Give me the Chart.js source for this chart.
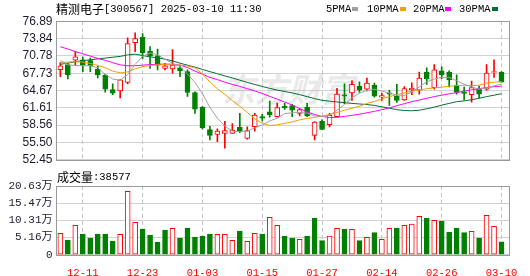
<!doctype html>
<html>
<head>
<meta charset="utf-8">
<title>精测电子 K线</title>
<script src="https://cdn.jsdelivr.net/npm/chart.js@4"></script>
<style>
  html, body { margin: 0; padding: 0; background: #fff; }
  #wrap { position: relative; width: 530px; height: 276px; overflow: hidden; }
  #price, #vol { position: absolute; left: 0; }
  #price { top: 0; }
  #vol { top: 170px; }
</style>
</head>
<body>
<div id="wrap">
  <canvas id="price" width="530" height="170"></canvas>
  <canvas id="vol" width="530" height="106"></canvas>
</div>
<script>
// trading days shown on the chart
const dates = [
  '12-06','12-09','12-10','12-11','12-12','12-13','12-16','12-17','12-18','12-19',
  '12-20','12-23','12-24','12-25','12-26','12-27','12-30','12-31','01-02','01-03',
  '01-06','01-07','01-08','01-09','01-10','01-13','01-14','01-15','01-16','01-17',
  '01-20','01-21','01-22','01-23','01-24','01-27','02-05','02-06','02-07','02-10',
  '02-11','02-12','02-13','02-14','02-17','02-18','02-19','02-20','02-21','02-24',
  '02-25','02-26','02-27','02-28','03-03','03-04','03-05','03-06','03-07','03-10'
];
const dateTickIdx = [3, 11, 19, 27, 35, 43, 51, 59];

const open = [
  68.36, 69.27, 70.01, 70.07, 69.95, 68.48, 67.40, 64.84, 64.61, 66.09,
  73.13, 74.04, 71.60, 70.81, 68.59, 68.48, 68.70, 68.02, 64.33, 61.77,
  57.80, 56.95, 57.12, 57.12, 58.20, 56.21, 58.31, 60.07, 60.92, 60.07,
  61.89, 62.00, 60.64, 61.77, 56.77, 59.22, 58.65, 60.07, 63.93, 64.27,
  65.47, 64.90, 65.63, 63.48, 64.27, 63.70, 63.02, 64.84, 64.73, 67.91,
  65.18, 68.14, 67.91, 65.63, 64.38, 63.93, 64.90, 64.90, 67.85, 67.91
];
const high = [
  69.60, 69.44, 71.60, 70.58, 70.41, 68.99, 67.57, 65.86, 66.60, 73.99,
  74.84, 74.72, 72.45, 72.00, 69.44, 71.88, 69.16, 68.31, 64.45, 61.85,
  58.37, 57.91, 59.22, 58.82, 60.64, 58.25, 60.64, 60.47, 62.80, 62.46,
  62.46, 62.23, 61.49, 62.46, 59.20, 59.50, 60.64, 65.07, 65.86, 66.43,
  66.20, 66.89, 65.98, 64.16, 64.73, 65.75, 65.35, 66.03, 67.91, 68.70,
  69.27, 68.87, 68.14, 67.45, 65.29, 66.32, 65.46, 69.27, 70.07, 68.02
];
const low = [
  67.11, 66.72, 69.16, 68.02, 68.02, 66.89, 64.39, 63.93, 63.36, 65.86,
  71.54, 70.29, 68.59, 68.31, 68.31, 67.74, 67.11, 63.65, 60.64, 57.91,
  55.98, 55.64, 54.50, 57.12, 57.23, 56.09, 57.51, 59.33, 59.96, 59.96,
  61.32, 60.07, 60.18, 60.07, 55.98, 57.75, 58.25, 60.00, 62.34, 62.91,
  64.33, 64.61, 63.48, 62.91, 62.06, 62.57, 62.91, 63.93, 64.05, 65.75,
  64.90, 66.77, 65.29, 64.05, 63.02, 62.63, 63.36, 64.73, 66.99, 66.15
];
const close = [
  69.04, 67.45, 70.63, 69.10, 69.04, 67.45, 64.90, 64.22, 66.54, 72.96,
  73.82, 71.32, 70.75, 69.16, 69.04, 69.16, 68.14, 64.33, 61.38, 58.08,
  56.77, 57.51, 57.60, 57.68, 57.51, 57.62, 60.35, 59.79, 60.35, 61.66,
  61.60, 61.21, 61.30, 60.18, 59.10, 57.80, 60.30, 64.05, 63.70, 65.75,
  64.73, 65.98, 63.70, 63.80, 64.05, 62.91, 65.01, 65.05, 66.89, 66.77,
  68.31, 67.45, 66.54, 64.33, 64.16, 65.18, 64.05, 67.74, 68.02, 66.15
];
// volume in 万
const volume = [
  6.41, 4.41, 8.81, 6.21, 5.01, 6.21, 6.21, 4.11, 6.11, 19.03,
  9.71, 7.71, 5.91, 3.81, 7.41, 7.91, 5.01, 8.01, 5.31, 5.61,
  6.21, 6.11, 6.11, 4.31, 7.11, 4.01, 6.41, 6.21, 11.22, 8.81,
  5.61, 5.01, 4.61, 5.61, 11.02, 4.21, 5.61, 7.91, 7.71, 7.61,
  4.21, 5.21, 6.61, 4.61, 7.91, 8.01, 8.81, 9.21, 11.52, 11.02,
  10.32, 10.12, 6.81, 8.01, 6.61, 7.01, 5.01, 11.82, 8.51, 3.8577
];

const ma5 = [
  70.0, 69.2, 69.1, 69.05, 69.05, 68.7, 67.5, 66.7, 66.5, 67.5,
  69.3, 70.7, 71.3, 71.0, 70.2, 69.5, 68.9, 67.6, 66.1, 64.1,
  61.7, 59.8, 58.4, 57.5, 57.4, 57.5, 58.1, 58.6, 59.3, 59.8,
  60.6, 60.75, 60.8, 60.7, 60.2, 60.1, 60.3, 61.2, 62.2, 63.4,
  64.2, 64.7, 64.9, 64.6, 64.2, 63.9, 63.8, 64.4, 65.3, 66.2,
  66.7, 67.0, 67.0, 66.4, 65.8, 65.3, 64.9, 65.1, 65.5, 65.8
];
const ma10 = [
  69.6, 69.7, 69.75, 69.7, 69.45, 69.1, 68.7, 68.1, 67.8, 67.95,
  68.5, 68.9, 69.1, 69.2, 69.25, 69.2, 69.15, 69.0, 68.7, 67.6,
  66.2, 65.0, 64.0, 62.9, 61.9, 60.8, 59.7, 58.9, 58.5, 58.6,
  58.9, 59.15, 59.5, 59.75, 59.95, 60.15, 60.45, 60.8, 61.2, 61.55,
  61.9, 62.4, 62.75, 63.2, 63.6, 63.95, 64.25, 64.55, 64.75, 65.0,
  65.15, 65.25, 65.45, 65.55, 65.6, 65.55, 65.6, 66.0, 66.15, 66.25
];
const ma20 = [
  72.4, 72.0, 71.55, 71.15, 70.75, 70.35, 70.0, 69.6, 69.2, 69.05,
  69.05, 69.15, 69.25, 69.3, 69.35, 69.3, 69.15, 68.75, 68.1, 67.55,
  67.0, 66.6, 66.15, 65.75, 65.4, 65.0, 64.6, 64.15, 63.65, 63.15,
  62.65, 62.1, 61.5, 60.9, 60.45, 60.1, 59.9, 59.95, 60.1, 60.3,
  60.5, 60.75, 61.0, 61.3, 61.6, 62.0, 62.35, 62.7, 63.0, 63.3,
  63.6, 63.85, 64.1, 64.3, 64.55, 64.8, 65.0, 65.2, 65.35, 65.45
];
const ma30 = [
  69.3, 69.5, 69.75, 69.95, 70.1, 70.25, 70.4, 70.55, 70.7, 70.95,
  71.1, 70.85, 70.6, 70.45, 70.2, 69.9, 69.5, 69.15, 68.8, 68.4,
  68.0, 67.65, 67.25, 66.9, 66.5, 66.1, 65.75, 65.4, 65.05, 64.75,
  64.5, 64.25, 63.95, 63.6, 63.25, 62.95, 62.8, 62.65, 62.55, 62.4,
  62.3, 62.2, 62.05, 61.8, 61.55, 61.3, 61.15, 61.1, 61.2, 61.45,
  61.75, 62.1, 62.4, 62.7, 62.85, 63.05, 63.3, 63.6, 63.85, 64.1
];

const priceTicks = [52.45, 55.50, 58.56, 61.61, 64.67, 67.73, 70.78, 73.84, 76.89];
const volTicks = [0, 5.1575, 10.315, 15.4725, 20.63];
const volTickLabels = ['0', '5.16万', '10.31万', '15.47万', '20.63万'];

const RED = '#ff0000';
const GREEN = '#008000';
const MA_COLORS = ['#a0a0a0', '#f0a000', '#ff00ff', '#006f33'];
const MONO = "'Liberation Mono', 'Noto Sans CJK SC', monospace";

const idx = dates.map((d, i) => i);
const candleUp = idx.map(i => close[i] >= open[i]);
const volUp = idx.map(i => i === 0 ? candleUp[0] : close[i] >= close[i - 1]);

Chart.defaults.animation = false;
Chart.defaults.font.family = "'Liberation Sans', Arial, sans-serif";
Chart.defaults.color = '#222';

const xCommon = {
  type: 'linear', min: -0.65, max: 60, offset: false,
  afterBuildTicks: s => { s.ticks = dateTickIdx.map(v => ({ value: v })); },
  grid: { display: false },
  border: { display: false }
};

// dashed vertical lines at the date ticks, frame round the plot
const framePlugin = {
  id: 'frame',
  beforeDatasetsDraw(chart) {
    const { ctx, chartArea: a, scales: { x } } = chart;
    ctx.save();
    ctx.strokeStyle = '#c4c4c4';
    ctx.lineWidth = 1;
    ctx.setLineDash([4, 3]);
    x.ticks.forEach(t => {
      const px = Math.floor(x.getPixelForValue(t.value)) + 0.5;
      ctx.beginPath();
      ctx.moveTo(px, a.top);
      ctx.lineTo(px, a.bottom);
      ctx.stroke();
    });
    ctx.restore();
  },
  afterDraw(chart) {
    const { ctx, chartArea: a } = chart;
    ctx.save();
    ctx.strokeStyle = '#999';
    ctx.lineWidth = 1;
    ctx.strokeRect(Math.round(a.left) + 0.5, Math.round(a.top) + 0.5,
      Math.round(a.right - a.left) - 1, Math.round(a.bottom - a.top));
    ctx.restore();
  }
};

const priceText = {
  id: 'priceText',
  beforeDatasetsDraw(chart) {
    const ctx = chart.ctx;
    ctx.save();
    ctx.font = "italic bold 33px 'Noto Sans CJK SC'";
    ctx.fillStyle = 'rgba(175,175,175,0.28)';
    ctx.textBaseline = 'middle';
    ctx.fillText('东方财富', 222, 89);
    ctx.restore();
  },
  afterDraw(chart) {
    const ctx = chart.ctx;
    ctx.save();
    ctx.textBaseline = 'middle';
    ctx.fillStyle = '#000';
    ctx.font = "12px 'Noto Sans CJK SC'";
    ctx.fillText('精测电子', 56, 9);
    ctx.font = '10.5px ' + MONO;
    ctx.fillText('[300567] 2025-03-10 11:30', 104, 9);
    const leg = [['5PMA', 326, 352], ['10PMA', 367, 400], ['20PMA', 413, 445], ['30PMA', 459, 492]];
    leg.forEach((l, k) => {
      ctx.fillStyle = '#000';
      ctx.fillText(l[0], l[1], 9);
      ctx.fillStyle = MA_COLORS[k];
      ctx.fillRect(l[2], 7, 6, 4);
    });
    ctx.restore();
  }
};

const maSet = (label, arr, k) => ({
  type: 'line', label, data: idx.map(i => ({ x: i, y: arr[i] })),
  borderColor: MA_COLORS[k], borderWidth: 1, pointRadius: 0, tension: 0, order: 0
});

new Chart(document.getElementById('price'), {
  type: 'bar',
  data: {
    datasets: [
      maSet('5PMA', ma5, 0),
      maSet('10PMA', ma10, 1),
      maSet('20PMA', ma20, 2),
      maSet('30PMA', ma30, 3),
      {
        label: 'body',
        data: idx.map(i => ({ x: i, y: [Math.min(open[i], close[i]), Math.max(open[i], close[i])] })),
        backgroundColor: idx.map(i => candleUp[i] ? '#fff' : GREEN),
        borderColor: idx.map(i => candleUp[i] ? RED : GREEN),
        borderWidth: 1, borderSkipped: false, barThickness: 5, grouped: false, order: 1
      },
      {
        label: 'wick',
        data: idx.map(i => ({ x: i, y: [low[i], high[i]] })),
        backgroundColor: idx.map(i => candleUp[i] ? RED : GREEN),
        borderWidth: 0, barThickness: 1, grouped: false, order: 2
      }
    ]
  },
  options: {
    responsive: false,
    layout: { padding: { left: 0, right: 21, top: 21.3, bottom: 5 } },
    plugins: { legend: { display: false }, tooltip: { enabled: false } },
    scales: {
      x: { ...xCommon, ticks: { display: false }, afterFit: s => { s.height = 0; } },
      y: {
        min: 52.45, max: 76.89,
        afterBuildTicks: s => { s.ticks = priceTicks.map(v => ({ value: v })); },
        afterFit: s => { s.width = 55.5; },
        ticks: { autoSkip: false, padding: 3, font: { size: 12 }, color: '#1b1b2b', callback: v => v.toFixed(2) },
        grid: { color: '#d2d2d2', drawTicks: false },
        border: { display: false }
      }
    }
  },
  plugins: [framePlugin, priceText]
});

const volText = {
  id: 'volText',
  afterDraw(chart) {
    const ctx = chart.ctx;
    ctx.save();
    ctx.textBaseline = 'middle';
    ctx.fillStyle = '#000';
    ctx.font = "12px 'Noto Sans CJK SC'";
    ctx.fillText('成交量', 57, 7);
    ctx.font = '10.5px ' + MONO;
    ctx.fillText(':' + Math.round(volume[volume.length - 1] * 10000), 93, 7);
    ctx.restore();
  }
};

new Chart(document.getElementById('vol'), {
  type: 'bar',
  data: {
    datasets: [{
      label: '成交量',
      data: idx.map(i => ({ x: i, y: volume[i] })),
      backgroundColor: idx.map(i => volUp[i] ? '#fff' : GREEN),
      borderColor: idx.map(i => volUp[i] ? RED : GREEN),
      borderWidth: 1, borderSkipped: false, barThickness: 5, grouped: false
    }]
  },
  options: {
    responsive: false,
    layout: { padding: { left: 0, right: 21, top: 16, bottom: 0 } },
    plugins: { legend: { display: false }, tooltip: { enabled: false } },
    scales: {
      x: {
        ...xCommon,
        afterFit: s => { s.height = 21.3; },
        ticks: { autoSkip: false, maxRotation: 0, padding: 4, color: RED, font: { family: MONO, size: 10.5 }, callback: v => dates[v] }
      },
      y: {
        min: 0, max: 20.63,
        afterBuildTicks: s => { s.ticks = volTicks.map(v => ({ value: v })); },
        afterFit: s => { s.width = 55.5; },
        ticks: { autoSkip: false, padding: 3, color: '#1b1b2b', font: { family: MONO, size: 11 }, callback: (v, i) => volTickLabels[i] },
        grid: { color: '#d2d2d2', drawTicks: false },
        border: { display: false }
      }
    }
  },
  plugins: [framePlugin, volText]
});
</script>
</body>
</html>
